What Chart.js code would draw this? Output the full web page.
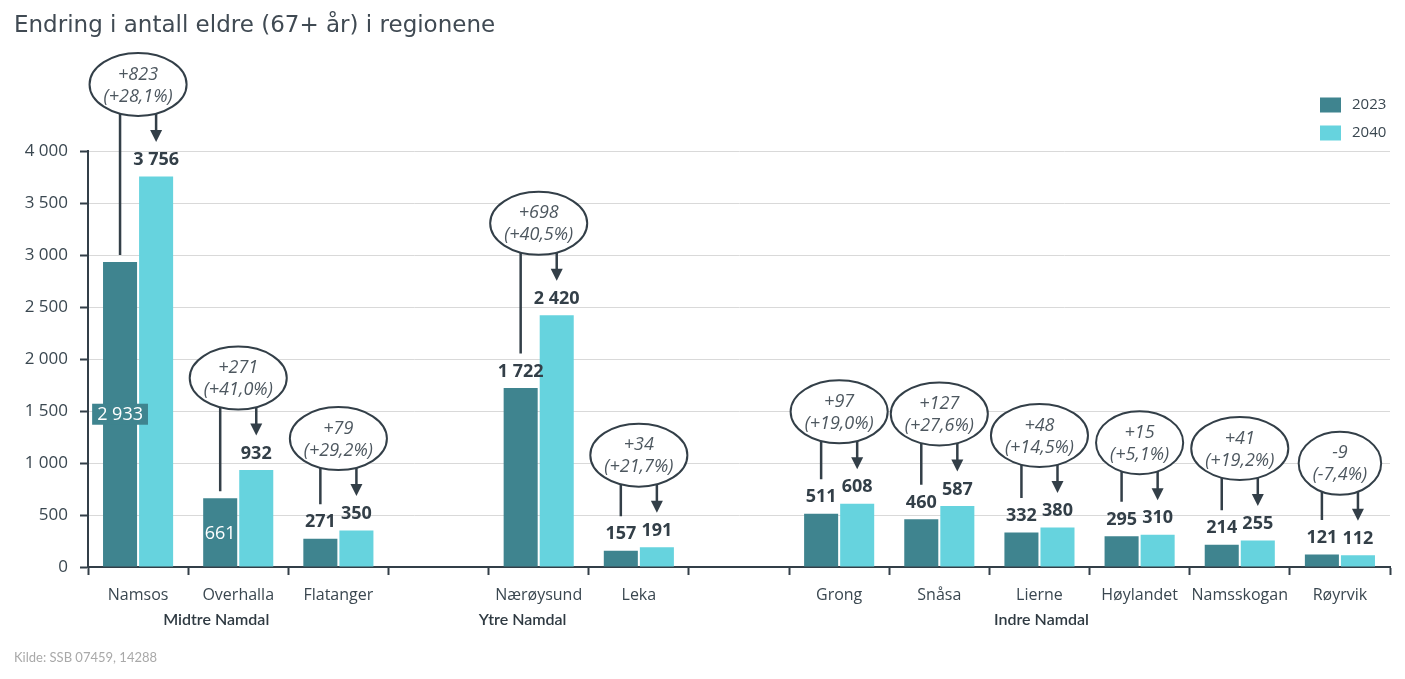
<!DOCTYPE html>
<html>
<head>
<meta charset="utf-8">
<script src="https://cdn.jsdelivr.net/npm/chart.js@4.4.1/dist/chart.umd.min.js"></script>
<style>
html,body{margin:0;padding:0;background:#fff;}
#wrap{width:1405px;height:679px;position:relative;}
</style>
</head>
<body>
<div id="wrap"><canvas id="c" width="1405" height="679"></canvas></div>
<script>
const chartTitle = 'Endring i antall eldre (67+ år) i regionene';
const sourceText = 'Kilde: SSB 07459, 14288';
const categories = ['Namsos', 'Overhalla', 'Flatanger', '', 'Nærøysund', 'Leka', '', 'Grong', 'Snåsa', 'Lierne', 'Høylandet', 'Namsskogan', 'Røyrvik'];
const values2023 = [2933, 661, 271, null, 1722, 157, null, 511, 460, 332, 295, 214, 121];
const values2040 = [3756, 932, 350, null, 2420, 191, null, 608, 587, 380, 310, 255, 112];
const seriesNames = ['2023', '2040'];
const groupNames = ['Midtre Namdal', 'Ytre Namdal', 'Indre Namdal'];
const yMin = 0, yMax = 4000, yStep = 500;

const C2023 = '#3f848f', C2040 = '#66d3de';
const DARK = '#333f48', TXT = '#3a4750';

function fmt(n) {
  const s = Math.abs(n).toString().replace(/\B(?=(\d{3})+(?!\d))/g, '\u00a0');
  return (n < 0 ? '-' : '') + s;
}

// styling choices for specific labels (placed inside the bar)
const insideLabels = {'Namsos': 'box', 'Overhalla': 'plain'};
// group label horizontal anchors (fractional category index)
const groupAnchor = [0.78, 3.84, 9.02];

const annot = {
  id: 'annot',
  afterDraw(chart) {
    const ctx = chart.ctx;
    const m0 = chart.getDatasetMeta(0), m1 = chart.getDatasetMeta(1);
    const xs = chart.scales.x;
    ctx.save();
    // title
    ctx.fillStyle = '#404a53';
    ctx.font = '23px "DejaVu Sans"';
    ctx.textBaseline = 'middle';
    ctx.textAlign = 'left';
    ctx.fillText(chartTitle, 14, 26);
    // source
    ctx.fillStyle = '#a9a9a9';
    ctx.font = '13px Lato';
    ctx.fillText(sourceText, 14, 658);
    // legend
    const legY = [105, 133];
    [C2023, C2040].forEach((c, i) => {
      ctx.fillStyle = c;
      ctx.fillRect(1320, legY[i] - 7.5, 21, 15);
      ctx.fillStyle = TXT;
      ctx.font = '15px "Open Sans"';
      ctx.fillText(seriesNames[i], 1352, legY[i]);
    });
    // group labels
    ctx.fillStyle = '#2f3a42';
    ctx.font = '600 16px Lato';
    ctx.textAlign = 'center';
    groupNames.forEach((g, i) => {
      ctx.fillText(g, xs.getPixelForValue(groupAnchor[i]), 620);
    });

    // data labels and annotations
    for (let j = 0; j < categories.length; j++) {
      const a = values2023[j], b = values2040[j];
      if (a == null || b == null) continue;
      const b0 = m0.data[j], b1 = m1.data[j];
      const base = b0.base;
      let l0y;
      const mode = insideLabels[categories[j]];
      ctx.textAlign = 'center';
      ctx.textBaseline = 'middle';
      if (mode) {
        const cy = (b0.y + base) / 2;
        ctx.font = '18px "Open Sans"';
        const t = fmt(a);
        if (mode === 'box') {
          const w = ctx.measureText(t).width + 10;
          ctx.fillStyle = C2023;
          ctx.fillRect(b0.x - w / 2, cy - 10.5, w, 21);
        }
        ctx.fillStyle = '#ffffff';
        ctx.fillText(t, b0.x, cy + 1);
        l0y = b0.y - 7;
      } else {
        const cy = b0.y - 16.5;
        ctx.font = 'bold 18px "Open Sans"';
        ctx.fillStyle = DARK;
        ctx.fillText(fmt(a), b0.x, cy);
        l0y = cy - 18;
      }
      const c1 = b1.y - 16.5;
      ctx.font = 'bold 18px "Open Sans"';
      ctx.fillStyle = DARK;
      ctx.fillText(fmt(b), b1.x, c1);
      const tip = c1 - 18;
      const eBottom = tip - 26;
      const ry = 31.5;
      const ecy = eBottom - ry;
      const ecx = (b0.x + b1.x) / 2;
      const d = b - a;
      const pct = (d / a * 100).toFixed(1).replace('.', ',');
      const line1 = (d >= 0 ? '+' : '') + d;
      const line2 = '(' + (d >= 0 ? '+' : '') + pct + '%)';
      ctx.font = 'italic 18px "Open Sans"';
      const tw = Math.max(ctx.measureText(line1).width, ctx.measureText(line2).width);
      const rx = (tw + 28) / 2;
      ctx.strokeStyle = DARK;
      ctx.lineWidth = 2.5;
      ctx.beginPath();
      ctx.moveTo(b0.x, ecy);
      ctx.lineTo(b0.x, l0y);
      ctx.moveTo(b1.x, ecy);
      ctx.lineTo(b1.x, tip - 11);
      ctx.stroke();
      ctx.fillStyle = DARK;
      ctx.beginPath();
      ctx.moveTo(b1.x - 6, tip - 12);
      ctx.lineTo(b1.x + 6, tip - 12);
      ctx.lineTo(b1.x, tip);
      ctx.closePath();
      ctx.fill();
      ctx.beginPath();
      ctx.ellipse(ecx, ecy, rx, ry, 0, 0, Math.PI * 2);
      ctx.fillStyle = '#ffffff';
      ctx.fill();
      ctx.lineWidth = 2;
      ctx.strokeStyle = DARK;
      ctx.stroke();
      ctx.fillStyle = '#4d575f';
      ctx.fillText(line1, ecx, ecy - 10);
      ctx.fillText(line2, ecx, ecy + 12);
    }
    ctx.restore();
  }
};

new Chart(document.getElementById('c'), {
  type: 'bar',
  data: {
    labels: categories,
    datasets: [
      {label: seriesNames[0], data: values2023, backgroundColor: C2023, borderWidth: 0, categoryPercentage: 0.72, barPercentage: 0.944},
      {label: seriesNames[1], data: values2040, backgroundColor: C2040, borderWidth: 0, categoryPercentage: 0.72, barPercentage: 0.944}
    ]
  },
  options: {
    responsive: false,
    animation: false,
    devicePixelRatio: 1,
    layout: {padding: {top: 151, right: 15, left: 0, bottom: 0}},
    plugins: {legend: {display: false}, tooltip: {enabled: false}, title: {display: false}},
    scales: {
      x: {
        offset: true,
        grid: {display: true, drawOnChartArea: false, drawTicks: true, tickLength: 8, tickColor: DARK, tickWidth: 2, offset: true},
        border: {display: true, color: DARK, width: 2},
        ticks: {autoSkip: false, maxRotation: 0, color: TXT, font: {family: 'Open Sans', size: 16}, padding: 11},
        afterFit(s) { s.height = 112; }
      },
      y: {
        min: yMin, max: yMax,
        grid: {color: '#d9d9d9', lineWidth: 1, tickLength: 8, tickColor: DARK, tickWidth: 2},
        border: {display: true, color: DARK, width: 2},
        ticks: {stepSize: yStep, color: TXT, font: {family: 'Open Sans', size: 17}, padding: 12, callback: v => fmt(v)},
        afterFit(s) { s.width = 88; }
      }
    }
  },
  plugins: [annot]
});
</script>
</body>
</html>
